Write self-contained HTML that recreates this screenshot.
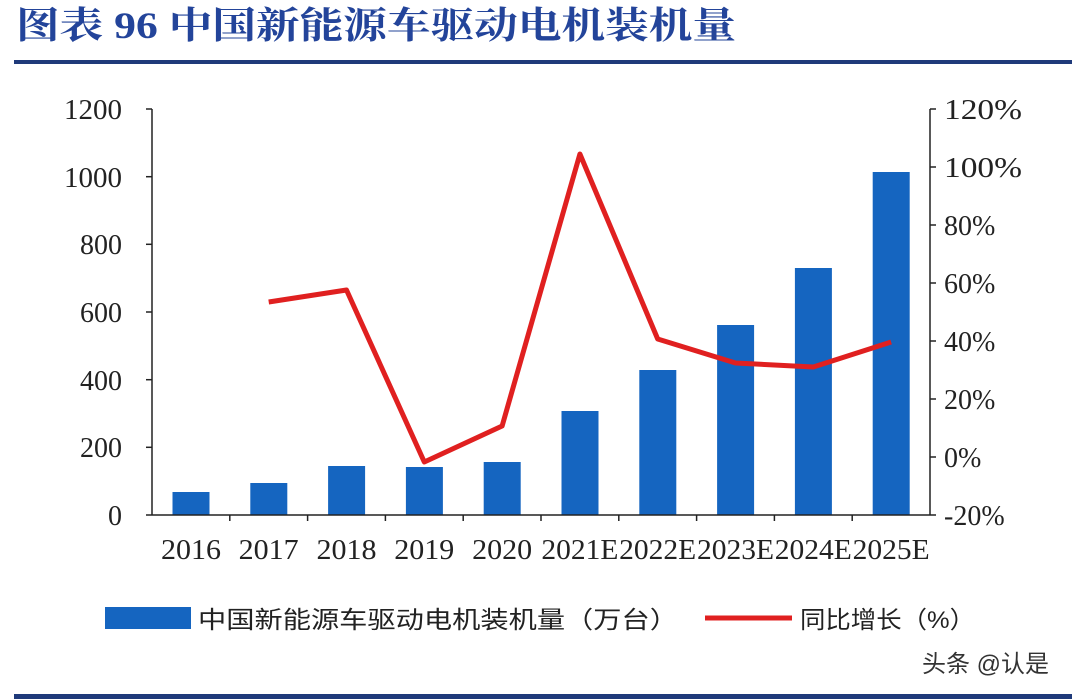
<!DOCTYPE html>
<html><head><meta charset="utf-8"><style>
body{margin:0;background:#fff;}
svg{display:block}
</style></head><body>
<svg width="1080" height="699" xmlns="http://www.w3.org/2000/svg" font-family="'Liberation Serif','Noto Serif CJK SC',serif">
<text x="16" y="38" font-size="37" font-weight="bold" fill="#23449a" textLength="720" lengthAdjust="spacingAndGlyphs" font-family="'Liberation Serif','Noto Serif CJK SC',serif">图表 96  中国新能源车驱动电机装机量</text>
<rect x="14" y="60" width="1058" height="4" fill="#1f3a7a"/>
<rect x="14" y="694" width="1058" height="5" fill="#1f3a7a"/>
<g fill="#1565c0">
<rect x="172.5" y="492" width="37" height="23"/>
<rect x="250.3" y="483" width="37" height="32"/>
<rect x="328.1" y="466" width="37" height="49"/>
<rect x="405.9" y="467" width="37" height="48"/>
<rect x="483.7" y="462" width="37" height="53"/>
<rect x="561.5" y="411" width="37" height="104"/>
<rect x="639.3" y="370" width="37" height="145"/>
<rect x="717.1" y="325" width="37" height="190"/>
<rect x="794.9" y="268" width="37" height="247"/>
<rect x="872.7" y="172" width="37" height="343"/>
</g>
<g stroke="#222" stroke-width="1.5" fill="none">
<line x1="152" y1="109" x2="152" y2="515"/>
<line x1="930" y1="109" x2="930" y2="515"/>
<line x1="146" y1="515" x2="936" y2="515"/>
<line x1="146" y1="109" x2="152" y2="109"/><line x1="146" y1="176.7" x2="152" y2="176.7"/><line x1="146" y1="244.3" x2="152" y2="244.3"/><line x1="146" y1="312" x2="152" y2="312"/><line x1="146" y1="379.7" x2="152" y2="379.7"/><line x1="146" y1="447.3" x2="152" y2="447.3"/>
<line x1="930" y1="109" x2="936" y2="109"/><line x1="930" y1="167" x2="936" y2="167"/><line x1="930" y1="225" x2="936" y2="225"/><line x1="930" y1="283" x2="936" y2="283"/><line x1="930" y1="341" x2="936" y2="341"/><line x1="930" y1="399" x2="936" y2="399"/><line x1="930" y1="457" x2="936" y2="457"/>
<line x1="229.8" y1="515" x2="229.8" y2="521"/><line x1="307.6" y1="515" x2="307.6" y2="521"/><line x1="385.4" y1="515" x2="385.4" y2="521"/><line x1="463.2" y1="515" x2="463.2" y2="521"/><line x1="541" y1="515" x2="541" y2="521"/><line x1="618.8" y1="515" x2="618.8" y2="521"/><line x1="696.6" y1="515" x2="696.6" y2="521"/><line x1="774.4" y1="515" x2="774.4" y2="521"/><line x1="852.2" y1="515" x2="852.2" y2="521"/>
</g>
<polyline points="268.7,302 346.5,290 424.3,462 502.1,426 579.9,154 657.7,339 735.5,363 813.3,367 891.1,342" fill="none" stroke="#e02020" stroke-width="5" stroke-linejoin="round"/>
<g font-size="28" fill="#222" text-anchor="end">
<text x="122" y="119" textLength="58" lengthAdjust="spacingAndGlyphs">1200</text><text x="122" y="187" textLength="58" lengthAdjust="spacingAndGlyphs">1000</text><text x="122" y="254">800</text><text x="122" y="322">600</text><text x="122" y="390">400</text><text x="122" y="457">200</text><text x="122" y="525">0</text>
</g>
<g font-size="28" fill="#222" text-anchor="start">
<text x="944" y="119" textLength="78" lengthAdjust="spacingAndGlyphs">120%</text><text x="944" y="177" textLength="78" lengthAdjust="spacingAndGlyphs">100%</text><text x="944" y="235">80%</text><text x="944" y="293">60%</text><text x="944" y="351">40%</text><text x="944" y="409">20%</text><text x="944" y="467">0%</text><text x="944" y="525">-20%</text>
</g>
<g font-size="28" fill="#222" text-anchor="middle">
<text x="191" y="559" textLength="60" lengthAdjust="spacingAndGlyphs">2016</text><text x="268.7" y="559" textLength="60" lengthAdjust="spacingAndGlyphs">2017</text><text x="346.5" y="559" textLength="60" lengthAdjust="spacingAndGlyphs">2018</text><text x="424.3" y="559" textLength="60" lengthAdjust="spacingAndGlyphs">2019</text><text x="502.1" y="559" textLength="60" lengthAdjust="spacingAndGlyphs">2020</text>
<text x="579.9" y="559" textLength="77" lengthAdjust="spacingAndGlyphs">2021E</text><text x="657.7" y="559" textLength="77" lengthAdjust="spacingAndGlyphs">2022E</text><text x="735.5" y="559" textLength="77" lengthAdjust="spacingAndGlyphs">2023E</text><text x="813.3" y="559" textLength="77" lengthAdjust="spacingAndGlyphs">2024E</text><text x="891.1" y="559" textLength="77" lengthAdjust="spacingAndGlyphs">2025E</text>
</g>
<rect x="105" y="607" width="86" height="22" fill="#1565c0"/>
<text x="198" y="628" font-size="24" fill="#222" textLength="480" lengthAdjust="spacingAndGlyphs" font-family="'Liberation Sans','Noto Sans CJK SC',sans-serif">中国新能源车驱动电机装机量（万台）</text>
<line x1="705" y1="618" x2="792" y2="618" stroke="#e02020" stroke-width="5"/>
<text x="800" y="628" font-size="24" fill="#222" textLength="175" lengthAdjust="spacingAndGlyphs" font-family="'Liberation Sans','Noto Sans CJK SC',sans-serif">同比增长（%）</text>
<text x="922" y="672" font-size="24" fill="#333" font-family="'Liberation Sans','Noto Sans CJK SC',sans-serif">头条 @认是</text>
</svg>
</body></html>
